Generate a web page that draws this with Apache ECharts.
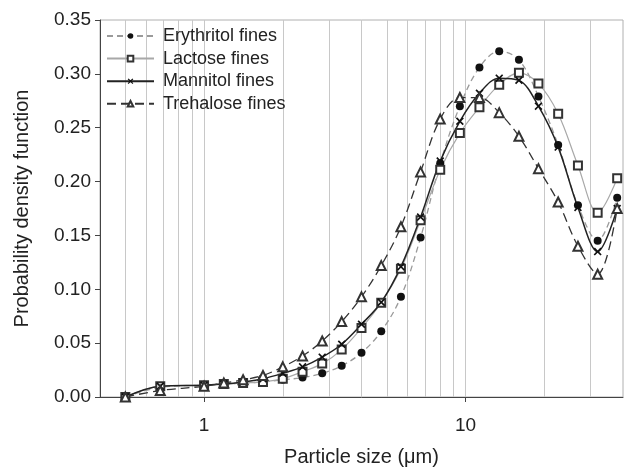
<!DOCTYPE html>
<html>
<head>
<meta charset="utf-8">
<script src="https://cdn.jsdelivr.net/npm/echarts@6/dist/echarts.min.js"></script>
<style>
    html, body { margin: 0; padding: 0; background: #fff; }
    #chart { width: 624px; height: 472px; }
</style>
</head>
<body>
<div id="chart"></div>
<script>
// particle size bins (um)
var sizes = [0.5, 0.68, 1, 1.19, 1.41, 1.68, 2, 2.38, 2.83, 3.36, 4, 4.76, 5.66, 6.73, 8, 9.51, 11.3, 13.45, 16, 19, 22.6, 26.9, 32, 38];

var erythritol = [0, 0.009, 0.011, 0.012, 0.013, 0.014, 0.016, 0.018, 0.022, 0.029, 0.041, 0.061, 0.093, 0.148, 0.217, 0.270, 0.306, 0.321, 0.313, 0.279, 0.234, 0.178, 0.145, 0.185];
var lactose = [0, 0.010, 0.011, 0.012, 0.013, 0.014, 0.017, 0.0235, 0.031, 0.044, 0.064, 0.0875, 0.119, 0.164, 0.211, 0.245, 0.269, 0.290, 0.301, 0.291, 0.263, 0.215, 0.171, 0.203];
var mannitol = [0, 0.010, 0.011, 0.012, 0.014, 0.017, 0.022, 0.028, 0.037, 0.049, 0.0675, 0.088, 0.121, 0.167, 0.219, 0.256, 0.282, 0.296, 0.294, 0.270, 0.232, 0.176, 0.135, 0.175];
var trehalose = [0, 0.006, 0.010, 0.013, 0.016, 0.020, 0.028, 0.038, 0.052, 0.070, 0.093, 0.122, 0.158, 0.209, 0.258, 0.278, 0.278, 0.264, 0.242, 0.212, 0.181, 0.140, 0.114, 0.175];

var seriesNames = ['Erythritol fines', 'Lactose fines', 'Mannitol fines', 'Trehalose fines'];
var xTickValues = [1, 10];
var gridValues = [0.5, 0.6, 0.7, 0.8, 0.9, 1, 2, 3, 4, 5, 6, 7, 8, 9, 10, 20, 30];

function pairs(ys) {
    return sizes.map(function (x, i) { return [x, ys[i]]; });
}

var crossPath = 'path://M0,1.5L1.5,0L5,3.5L8.5,0L10,1.5L6.5,5L10,8.5L8.5,10L5,6.5L1.5,10L0,8.5L3.5,5Z';
var font = 'Liberation Sans, Arial, sans-serif';

var chart = echarts.init(document.getElementById('chart'));
chart.setOption({
    animation: false,
    backgroundColor: '#fff',
    grid: {
        left: 100, top: 20, right: 1, bottom: 75,
        show: true, borderColor: '#b0b0b0', borderWidth: 1
    },
    legend: {
        orient: 'vertical',
        left: 101, top: 22,
        itemWidth: 47, itemHeight: 7, itemGap: 4.6,
        textStyle: { fontFamily: font, fontSize: 18, color: '#222', padding: [0, 0, 0, 4] },
        data: seriesNames
    },
    xAxis: {
        type: 'log', logBase: 10, min: 0.4, max: 40,
        name: 'Particle size (\u03bcm)', nameLocation: 'middle', nameGap: 50,
        nameTextStyle: { fontFamily: font, fontSize: 20, color: '#222' },
        axisLine: { lineStyle: { color: '#444', width: 1 } },
        axisTick: { customValues: xTickValues, length: 5, lineStyle: { color: '#444' } },
        axisLabel: { customValues: xTickValues, margin: 19, fontFamily: font, fontSize: 19, color: '#222' },
        splitLine: { show: false }
    },
    yAxis: {
        type: 'value', min: 0, max: 0.35, interval: 0.05,
        name: 'Probability density function', nameLocation: 'middle', nameGap: 68,
        nameTextStyle: { fontFamily: font, fontSize: 20, color: '#222' },
        axisLine: { show: true, lineStyle: { color: '#444', width: 1 } },
        axisTick: { show: true, length: 5, lineStyle: { color: '#444' } },
        axisLabel: {
            margin: 9, fontFamily: font, fontSize: 19, color: '#222',
            formatter: function (v) { return v.toFixed(2); }
        },
        splitLine: { show: false }
    },
    series: [
        {
            name: seriesNames[0], type: 'line', smooth: 0.35, data: pairs(erythritol),
            symbol: 'circle', symbolSize: 8,
            itemStyle: { color: '#111' },
            lineStyle: { color: '#9a9a9a', width: 1.3, type: [6, 4] },
            markLine: {
                silent: true, z: 1, symbol: 'none', label: { show: false },
                lineStyle: { color: '#c8c8c8', type: 'solid', width: 1 },
                data: gridValues.map(function (v) { return { xAxis: v }; })
            }
        },
        {
            name: seriesNames[1], type: 'line', smooth: 0.35, data: pairs(lactose),
            symbol: 'emptyRect', symbolSize: 8,
            itemStyle: { color: '#333', borderWidth: 1 },
            lineStyle: { color: '#a8a8a8', width: 1.2 }
        },
        {
            name: seriesNames[2], type: 'line', smooth: 0.35, data: pairs(mannitol),
            symbol: crossPath, symbolSize: 8,
            itemStyle: { color: '#111' },
            lineStyle: { color: '#222', width: 1.5 }
        },
        {
            name: seriesNames[3], type: 'line', smooth: 0.35, data: pairs(trehalose),
            symbol: 'emptyTriangle', symbolSize: 9,
            itemStyle: { color: '#333', borderWidth: 1 },
            lineStyle: { color: '#333', width: 1.3, type: [9, 5] }
        }
    ]
});
</script>
</body>
</html>
